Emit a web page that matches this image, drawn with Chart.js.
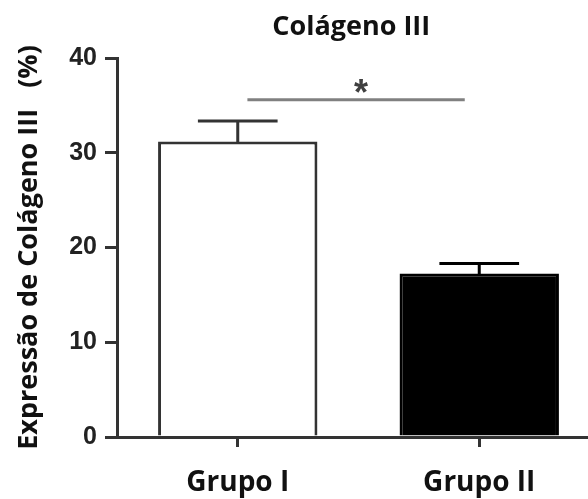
<!DOCTYPE html>
<html><head><meta charset="utf-8">
<script src="https://cdn.jsdelivr.net/npm/chart.js@4.4.0/dist/chart.umd.min.js"></script>
<style>
html,body{margin:0;padding:0;overflow:hidden;background:#fff;width:588px;height:499px}
canvas{display:block}
</style></head>
<body>
<canvas id="c" width="600" height="499"></canvas>
<script>
// ---- data ----
const categories = ['Grupo I', 'Grupo II'];
const means = [31.2, 17.25];
const errors = [2.15, 1.05];
const yTicks = [0, 10, 20, 30, 40];
const chartTitle = 'Colágeno III';
const yTitle = 'Expressão de Colágeno III   (%)';
const sigSpan = [0.04, 0.94];   // category-index span of the significance line
const sigLevel = 35.6;          // y value of the significance line
const sigMark = '*';

const axisColor = '#333';
const barFills = ['#ffffff', '#000000'];
const barBorders = ['#333333', '#000000'];
const labelFont = '"Open Sans", Lato, sans-serif';

const overlay = {
  id: 'overlay',
  afterDatasetsDraw(chart) {
    const {ctx, scales: {x, y}, chartArea} = chart;
    const meta = chart.getDatasetMeta(0);
    ctx.save();
    ctx.lineCap = 'butt';
    means.forEach((m, i) => {
      const bar = meta.data[i];
      const cx = bar.x;
      const half = bar.width * 0.25;
      const yTop = y.getPixelForValue(m + errors[i]);
      const yBar = y.getPixelForValue(m);
      ctx.strokeStyle = barBorders[i];
      ctx.lineWidth = 3;
      ctx.beginPath();
      ctx.moveTo(cx, yBar + 1); ctx.lineTo(cx, yTop);
      ctx.moveTo(cx - half, yTop); ctx.lineTo(cx + half, yTop);
      ctx.stroke();
    });
    // significance line
    const sy = y.getPixelForValue(sigLevel);
    const sx0 = x.getPixelForValue(sigSpan[0]);
    const sx1 = x.getPixelForValue(sigSpan[1]);
    ctx.strokeStyle = '#808080';
    ctx.lineWidth = 3;
    ctx.beginPath(); ctx.moveTo(sx0, sy); ctx.lineTo(sx1, sy); ctx.stroke();
    ctx.fillStyle = '#404040';
    ctx.font = 'bold 36px "Liberation Sans", Arial, sans-serif';
    ctx.textAlign = 'center';
    ctx.textBaseline = 'alphabetic';
    const mt = ctx.measureText(sigMark);
    const targetCenter = sy - 14;
    const base = targetCenter - (mt.actualBoundingBoxDescent - mt.actualBoundingBoxAscent) / 2;
    ctx.fillText(sigMark, (sx0 + sx1) / 2 + 5, base);
    // chart title
    ctx.fillStyle = '#111';
    ctx.font = 'bold 27px ' + labelFont;
    ctx.textAlign = 'center';
    ctx.fillText(chartTitle, chartArea.left + 0.485 * (chartArea.right - chartArea.left), chartArea.top - 23);
    ctx.restore();
  }
};

new Chart(document.getElementById('c'), {
  type: 'bar',
  data: {
    labels: categories,
    datasets: [{
      data: means,
      backgroundColor: barFills,
      borderColor: barBorders,
      borderWidth: 3,
      borderSkipped: 'bottom',
      barPercentage: 0.66,
      categoryPercentage: 1.0
    }]
  },
  options: {
    responsive: false,
    animation: false,
    devicePixelRatio: 1,
    layout: {padding: {top: 58, left: 0, right: 0, bottom: 0}},
    plugins: {legend: {display: false}, tooltip: {enabled: false}, title: {display: false}},
    scales: {
      x: {
        offset: true,
        grid: {display: true, drawOnChartArea: false, drawTicks: true, tickLength: 10, offset: false, color: axisColor, lineWidth: 3},
        border: {display: true, color: axisColor, width: 3},
        ticks: {color: '#111', font: {family: labelFont, weight: 'bold', size: 28}, padding: 19, maxRotation: 0},
        afterFit(scale) { scale.height = 62; }
      },
      y: {
        min: 0, max: 40,
        afterBuildTicks(scale) { scale.ticks = yTicks.map(v => ({value: v})); },
        grid: {display: true, drawOnChartArea: false, drawTicks: true, tickLength: 12, color: axisColor, lineWidth: 3},
        border: {display: true, color: axisColor, width: 3},
        ticks: {color: '#222', font: {family: '"Liberation Sans", Arial, sans-serif', weight: 'bold', size: 25}, padding: 8},
        title: {display: true, text: yTitle, color: '#111', font: {family: labelFont, weight: 'bold', size: 27}, padding: {top: 13, bottom: 0}},
        afterFit(scale) { scale.width = 117; }
      }
    }
  },
  plugins: [overlay]
});
</script>
</body></html>
